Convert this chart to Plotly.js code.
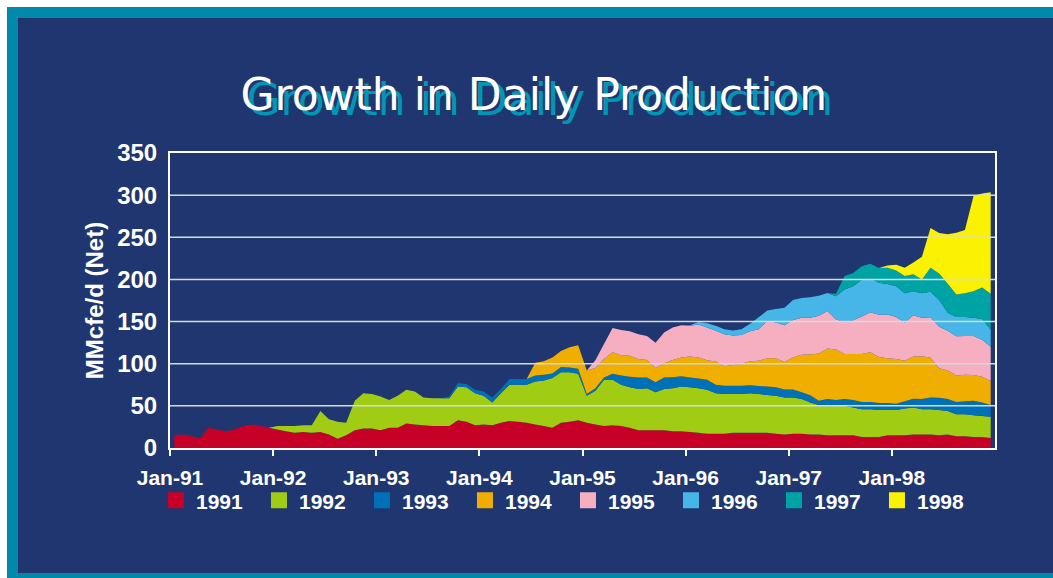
<!DOCTYPE html>
<html>
<head>
<meta charset="utf-8">
<script src="https://cdn.plot.ly/plotly-3.0.1.min.js"></script>
<style>
  html, body { margin:0; padding:0; background:#ffffff; overflow:hidden; width:1053px; height:578px; }
  #frame { position:absolute; left:7px; top:7px; width:1060px; height:590px; background:#0089a8; }
  #inner { position:absolute; left:18px; top:18px; width:1050px; height:555px; background:#1f3670; }
  #chart { position:absolute; left:0; top:0; width:1053px; height:578px; }
</style>
</head>
<body>
<div id="frame"></div>
<div id="inner"></div>
<div id="chart"></div>
<script>
// ---- categories ----
const years = ['1991','1992','1993','1994','1995','1996','1997','1998'];
const monthNames = ['Jan','Feb','Mar','Apr','May','Jun','Jul','Aug','Sep','Oct','Nov','Dec'];
const months = [];
years.forEach(function(y){ monthNames.forEach(function(mn){ months.push(mn + '-' + y.slice(2)); }); });
const tickLabels = ['Jan-91','Jan-92','Jan-93','Jan-94','Jan-95','Jan-96','Jan-97','Jan-98'];
const yTicks = [0,50,100,150,200,250,300,350];

// ---- series values (MMcfe/d, net), one value per month Jan-91 .. Dec-98 ----
const s1991 = [15,16,14,12,24,22,20,22,26,28,26,24,
               22,20,18,19,18,19,16,11,15,21,23,23,
               21,24,24,29,28,27,26,26,26,33,31,27,
               28,27,30,32,31,30,28,26,24,30,31,33,
               30,28,26,27,26,24,21,21,21,21,20,20,
               19,18,17,17,17,18,18,18,18,18,17,16,
               17,17,16,16,15,15,15,15,13,13,13,15,
               15,15,16,16,16,15,16,14,14,13,13,12];
const s1992 = [0,0,0,0,0,0,0,0,0,0,0,0,
               4,6,8,8,9,25,18,20,15,35,42,41,
               40,33,38,40,39,33,33,33,33,40,41,38,
               34,27,35,43,44,45,51,54,59,60,59,55,
               32,40,55,54,49,48,49,50,45,49,51,53,
               53,53,52,48,47,46,46,47,46,45,45,44,
               43,41,38,35,35,35,35,33,33,33,32,30,
               30,32,32,30,30,30,28,26,26,26,25,25];
const s1993 = [0,0,0,0,0,0,0,0,0,0,0,0,
               0,0,0,0,0,0,0,0,0,0,0,0,
               0,0,0,0,0,0,0,0,2,4,4,4,
               5,6,5,7,7,7,7,7,5.5,6,5.5,6,
               2,3,2.5,7,11,12.5,13.5,12.5,12,13.5,13,12,
               11.5,11.5,12,10,10,10,10,9.5,9.5,10,10,9.5,
               9.5,8,8.5,5,8,7,8,9,8.5,8.5,8.5,8.5,
               7.5,8.5,10.5,12,14,14.5,14,14.5,15.5,17,16,14];
const s1994 = [0,0,0,0,0,0,0,0,0,0,0,0,
               0,0,0,0,0,0,0,0,0,0,0,0,
               0,0,0,0,0,0,0,0,0,0,0,0,
               0,0,0,0,0,0,15,16,19,19,24,28,
               28,24,22,25.5,24,25,22,21,17,17,20.5,22.5,
               25,25,23,27.5,23,24.5,26,28.5,30,33.5,34.5,32.5,
               38,44.5,48.5,56,60,60,53.5,54.5,57,59,54.5,53,
               53,48,50,51,47,35,34,31.5,31.5,30.5,30.5,28.5];
const s1995 = [0,0,0,0,0,0,0,0,0,0,0,0,
               0,0,0,0,0,0,0,0,0,0,0,0,
               0,0,0,0,0,0,0,0,0,0,0,0,
               0,0,0,0,0,0,0,0,0,0,0,0,
               0,9,18,29,30,29,29.5,28.5,30,36.5,38.5,38,
               36.5,39,39,36.5,38,35,34,35.5,37.5,44.5,42.5,43.5,
               44.5,44,43.5,45,44.5,35.5,38,40,44.5,47.5,50,52,
               50,45.5,49,45.5,48,49.5,47,46.5,46,46.5,44,40.5];
const s1996 = [0,0,0,0,0,0,0,0,0,0,0,0,
               0,0,0,0,0,0,0,0,0,0,0,0,
               0,0,0,0,0,0,0,0,0,0,0,0,
               0,0,0,0,0,0,0,0,0,0,0,0,
               0,0,0,0,0,0,0,0,0,0,0,0,
               0.5,3,5,6,6,6,7,9,14,12,16,21,
               23.5,23.5,24.5,23.5,21.5,27.5,38.5,40.5,43.5,40.5,38,36,
               36.5,34.5,28.5,29,30.5,31.5,21.5,23,22.5,21.5,24.5,20.5];
const s1997 = [0,0,0,0,0,0,0,0,0,0,0,0,
               0,0,0,0,0,0,0,0,0,0,0,0,
               0,0,0,0,0,0,0,0,0,0,0,0,
               0,0,0,0,0,0,0,0,0,0,0,0,
               0,0,0,0,0,0,0,0,0,0,0,0,
               0,0,0,0,0,0,0,0,0,0,0,0,
               0,0,0,0,0,3,16,15.5,16,17,17.5,19.5,
               18.5,20.5,20,16.5,28.5,31.5,34.5,26.5,28,31.5,37.5,42.5];
const s1998 = [0,0,0,0,0,0,0,0,0,0,0,0,
               0,0,0,0,0,0,0,0,0,0,0,0,
               0,0,0,0,0,0,0,0,0,0,0,0,
               0,0,0,0,0,0,0,0,0,0,0,0,
               0,0,0,0,0,0,0,0,0,0,0,0,
               0,0,0,0,0,0,0,0,0,0,0,0,
               0,0,0,0,0,0,0,0,0,0,0,2.5,
               7,10,14,27,47,48,58.5,73.5,75,113,111.5,120.5];

const seriesValues = [s1991, s1992, s1993, s1994, s1995, s1996, s1997, s1998];
const seriesColors = ['#c70028','#a0cc14','#0071b9','#f0ae00','#f5afc1','#46b6e9','#00a3a4','#faf200'];

// month index -> centre of each monthly slot on a linear axis
const xPos = months.map(function(_, i){ return i + 0.5; });
const tickPos = tickLabels.map(function(t){ return months.indexOf(t); });

const FONT = 'Liberation Sans, Arial, Helvetica, sans-serif';
const TITLE_FONT = 'DejaVu Sans, Liberation Sans, Arial, sans-serif';
const traces = [];
seriesValues.forEach(function(vals, k){
  traces.push({
    type:'scatter', x:xPos, y:vals, stackgroup:'one', mode:'none',
    fillcolor:seriesColors[k], line:{width:0}, name:years[k],
    showlegend:false, hoverinfo:'skip'
  });
});
// legend proxies (square swatches)
years.forEach(function(y, k){
  traces.push({
    type:'scatter', x:[null], y:[null], mode:'markers', name:y,
    marker:{symbol:'square', size:16, color:seriesColors[k]},
    showlegend:true, hoverinfo:'skip'
  });
});

const gridShapes = yTicks.filter(function(v){ return v > 0 && v < 350; }).map(function(v){
  return {type:'line', xref:'paper', x0:0, x1:1, yref:'y', y0:v, y1:v,
          layer:'above', line:{color:'#d6dae4', width:1.5}};
});

const layout = {
  width:1053, height:578, autosize:false,
  paper_bgcolor:'rgba(0,0,0,0)', plot_bgcolor:'rgba(0,0,0,0)',
  margin:{l:170, r:58, t:153, b:130, pad:0},
  title:{
    text:'Growth in Daily Production',
    font:{family:TITLE_FONT, size:44, color:'#ffffff', shadow:'6px 5px 0px #0097b5'},
    x:0.507, xanchor:'center', xref:'container',
    y:0.837, yanchor:'middle', yref:'container'
  },
  xaxis:{
    type:'linear', range:[0, months.length], tickmode:'array',
    tickvals:tickPos, ticktext:tickLabels,
    ticks:'outside', ticklen:6, tickwidth:2, tickcolor:'#ffffff',
    showline:true, linecolor:'#ffffff', linewidth:2, mirror:true,
    showgrid:false, zeroline:false, layer:'above traces',
    tickfont:{family:FONT, size:21, color:'#ffffff', weight:'bold'},
    ticklabelstandoff:4, fixedrange:true
  },
  yaxis:{
    range:[0,350], tickmode:'array', tickvals:yTicks, ticktext:yTicks.map(String),
    ticks:'', showline:true, linecolor:'#ffffff', linewidth:2, mirror:true,
    showgrid:false, zeroline:false, layer:'above traces',
    tickfont:{family:FONT, size:24, color:'#ffffff', weight:'bold'},
    ticklabelstandoff:6, fixedrange:true,
    title:{text:'MMcfe/d (Net)', font:{family:FONT, size:24, color:'#ffffff', weight:'bold'}, standoff:7}
  },
  legend:{
    orientation:'h', x:-0.017, xanchor:'left', y:-0.109, yanchor:'top',
    font:{family:FONT, size:21, color:'#ffffff', weight:'bold'},
    bgcolor:'rgba(0,0,0,0)', borderwidth:0,
    entrywidth:58, entrywidthmode:'pixels', traceorder:'normal',
    itemclick:false, itemdoubleclick:false
  },
  shapes:gridShapes,
  showlegend:true
};

Plotly.newPlot('chart', traces, layout, {displayModeBar:false, staticPlot:true});
</script>
</body>
</html>
